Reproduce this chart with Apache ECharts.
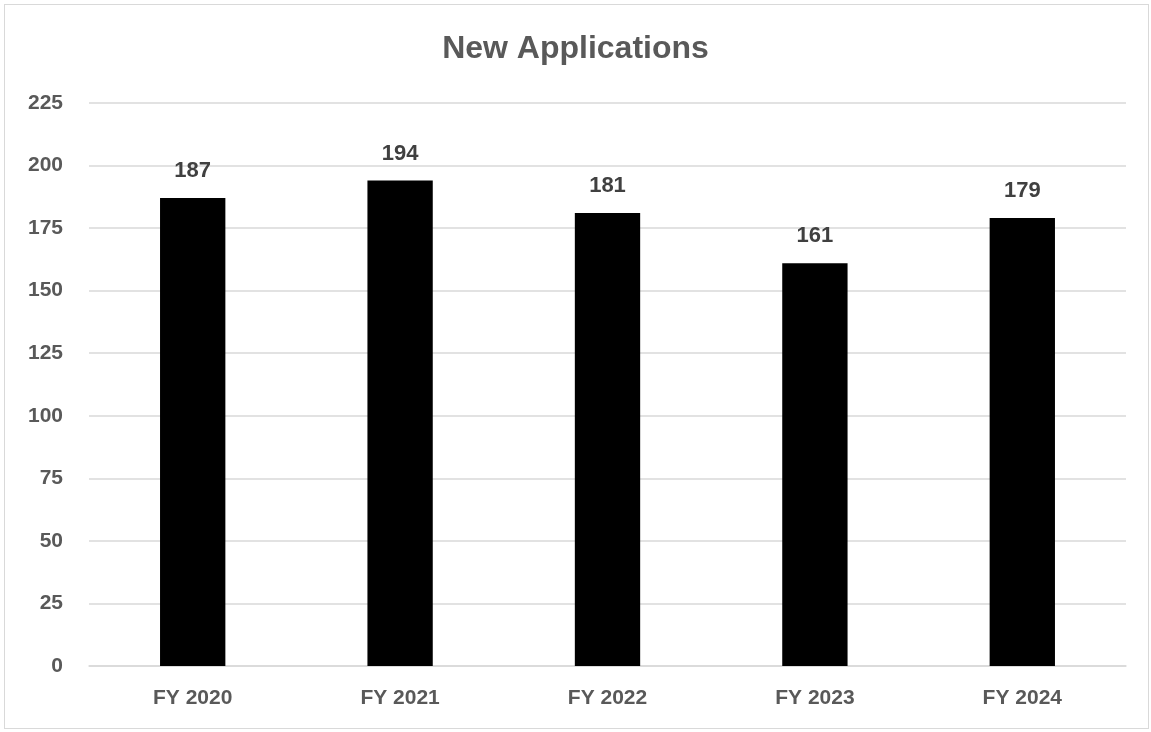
<!DOCTYPE html>
<html><head><meta charset="utf-8">
<script src="https://cdn.jsdelivr.net/npm/echarts@6/dist/echarts.min.js"></script>
<style>html,body{margin:0;padding:0;background:#fff;}
#frame{position:absolute;left:4px;top:4px;width:1145px;height:725px;border:1px solid #d9d9d9;box-sizing:border-box;}
#c{position:absolute;left:0;top:0;width:1151px;height:732px;}</style>
</head><body><div id="frame"></div><div id="c"></div>
<script>
const categories = ["FY 2020","FY 2021","FY 2022","FY 2023","FY 2024"];
const values = [187,194,181,161,179];
const yTicks = {min:0,max:225,interval:25};
const FONT = 'Liberation Sans, Arial';
const chart = echarts.init(document.getElementById('c'));
chart.setOption({
  animation:false,
  title:{text:"New Applications",left:'center',top:28,textStyle:{fontFamily:FONT,fontSize:32,fontWeight:'bold',color:'#595959'}},
  grid:{left:89,right:25,top:103,bottom:66,containLabel:false},
  xAxis:{type:'category',data:categories,axisTick:{show:false},
    axisLine:{lineStyle:{color:'#d9d9d9',width:1.5}},
    axisLabel:{margin:22,fontFamily:FONT,fontSize:21,fontWeight:'bold',color:'#595959'}},
  yAxis:{type:'value',min:yTicks.min,max:yTicks.max,interval:yTicks.interval,
    axisLine:{show:false},axisTick:{show:false},
    splitLine:{lineStyle:{color:'#d9d9d9',width:1.5}},
    axisLabel:{margin:26,fontFamily:FONT,fontSize:21,fontWeight:'bold',color:'#595959'}},
  series:[{type:'bar',data:values,barWidth:'31.5%',itemStyle:{color:'#000'},
    label:{show:true,position:'top',distance:16,fontFamily:FONT,fontSize:22,fontWeight:'bold',color:'#404040'}}]
});
</script></body></html>
